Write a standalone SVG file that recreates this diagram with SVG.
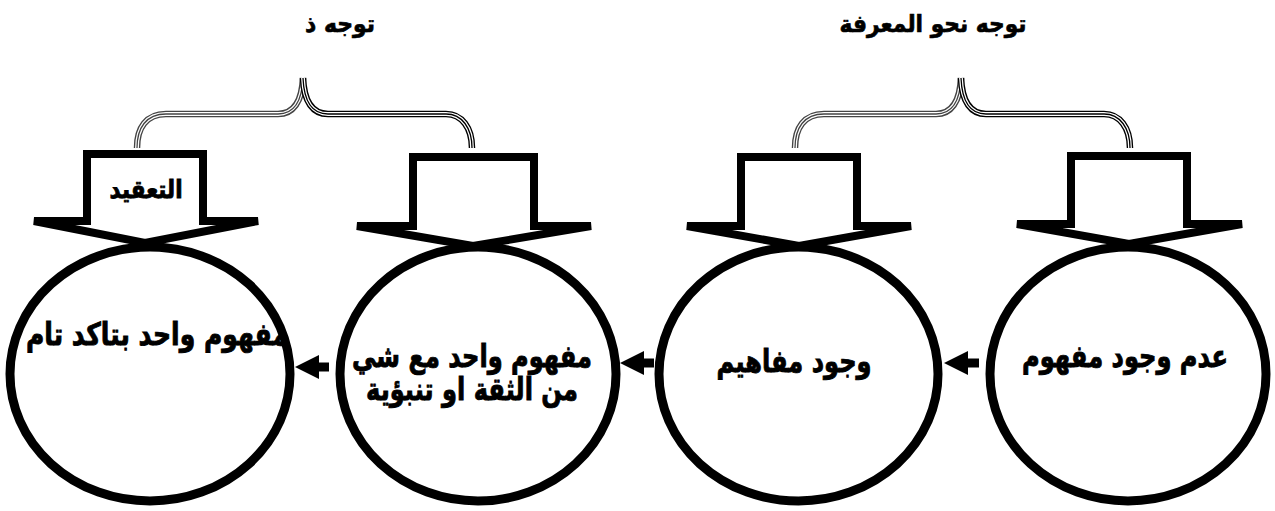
<svg xmlns="http://www.w3.org/2000/svg" width="1275" height="511" viewBox="0 0 1275 511">
<style>
.circle{fill:none;stroke:#000;stroke-width:9}
.block{fill:none;stroke:#000;stroke-width:8;stroke-linejoin:miter}
.t{font-family:"DejaVu Sans","Noto Sans",sans-serif;font-weight:bold;fill:#000;stroke:#000;stroke-width:0.9;text-anchor:middle}
.big{font-size:31px}
.hdr{font-size:24px;stroke-width:0.7}
.shaft{stroke:#000;stroke-width:9;fill:none}
.bo{fill:none;stroke-width:6.5}
.bw{fill:none;stroke:#fff;stroke-width:3.8}
.bi{fill:none;stroke-width:1.3}
</style>
<defs>
<marker id="head" markerUnits="userSpaceOnUse" markerWidth="24" markerHeight="24" viewBox="0 0 24 24" refX="1" refY="12" orient="auto">
<path d="M0,0 L24,12 L0,24 z" fill="#000"/>
</marker>
<path id="braceL" d="M137,148 C137,128 146,114 166,114 L278,114 C293,114 302,102 303,78"/>
<path id="braceR" d="M303,78 C304,102 313,114 328,114 L446,114 C462,114 472,128 472,148"/>
</defs>
<rect width="1275" height="511" fill="#fff"/>

<g id="header-1"><text class="t hdr" x="340" y="32" textLength="70" lengthAdjust="spacingAndGlyphs">توجه ذ</text></g>
<g id="header-2"><text class="t hdr" x="933" y="32" textLength="187" lengthAdjust="spacingAndGlyphs">توجه نحو المعرفة</text></g>

<g id="brace-1">
<use href="#braceL" class="bo" stroke="#444"/><use href="#braceL" class="bw"/><use href="#braceL" class="bi" stroke="#444"/>
<use href="#braceR" class="bo" stroke="#000"/><use href="#braceR" class="bw"/><use href="#braceR" class="bi" stroke="#000"/>
</g>
<g id="brace-2" transform="translate(658,0)">
<use href="#braceL" class="bo" stroke="#444"/><use href="#braceL" class="bw"/><use href="#braceL" class="bi" stroke="#444"/>
<use href="#braceR" class="bo" stroke="#000"/><use href="#braceR" class="bw"/><use href="#braceR" class="bi" stroke="#000"/>
</g>

<g id="block-arrow-1">
<path class="block" d="M87,154 L203,154 L203,221 L258,221 L145,243 L34,221 L87,221 Z"/>
<text class="t" style="font-size:25px" x="146" y="198" textLength="73" lengthAdjust="spacingAndGlyphs">التعقيد</text>
</g>
<g id="block-arrow-2"><path class="block" d="M413,157 L534,157 L534,226 L591,226 L473,246 L357,226 L413,226 Z"/></g>
<g id="block-arrow-3"><path class="block" d="M741,157 L857,157 L857,226 L911,226 L799,246 L687,226 L741,226 Z"/></g>
<g id="block-arrow-4"><path class="block" d="M1071,156 L1187,156 L1187,224 L1242,224 L1129,244 L1017,224 L1071,224 Z"/></g>

<g id="node-1">
<ellipse class="circle" cx="150" cy="374" rx="140" ry="127"/>
<text class="t big" x="157" y="345" textLength="262" lengthAdjust="spacingAndGlyphs">مفهوم واحد بتاكد تام</text>
</g>
<g id="node-2">
<ellipse class="circle" cx="478" cy="374" rx="138" ry="127"/>
<text class="t big" x="472" y="367" textLength="240" lengthAdjust="spacingAndGlyphs">مفهوم واحد مع شي</text>
<text class="t big" x="472" y="400" textLength="212" lengthAdjust="spacingAndGlyphs">من الثقة او تنبؤية</text>
</g>
<g id="node-3">
<ellipse class="circle" cx="798.5" cy="374" rx="139.5" ry="127"/>
<text class="t big" x="794" y="372" textLength="155" lengthAdjust="spacingAndGlyphs">وجود مفاهيم</text>
</g>
<g id="node-4">
<ellipse class="circle" cx="1128" cy="374" rx="138" ry="127"/>
<text class="t big" x="1125" y="367" textLength="206" lengthAdjust="spacingAndGlyphs">عدم وجود مفهوم</text>
</g>

<g id="connectors">
<line class="shaft" x1="329" y1="367" x2="318" y2="367" marker-end="url(#head)"/>
<line class="shaft" x1="654" y1="363" x2="643" y2="363" marker-end="url(#head)"/>
<line class="shaft" x1="979" y1="363" x2="967" y2="363" marker-end="url(#head)"/>
</g>
</svg>
